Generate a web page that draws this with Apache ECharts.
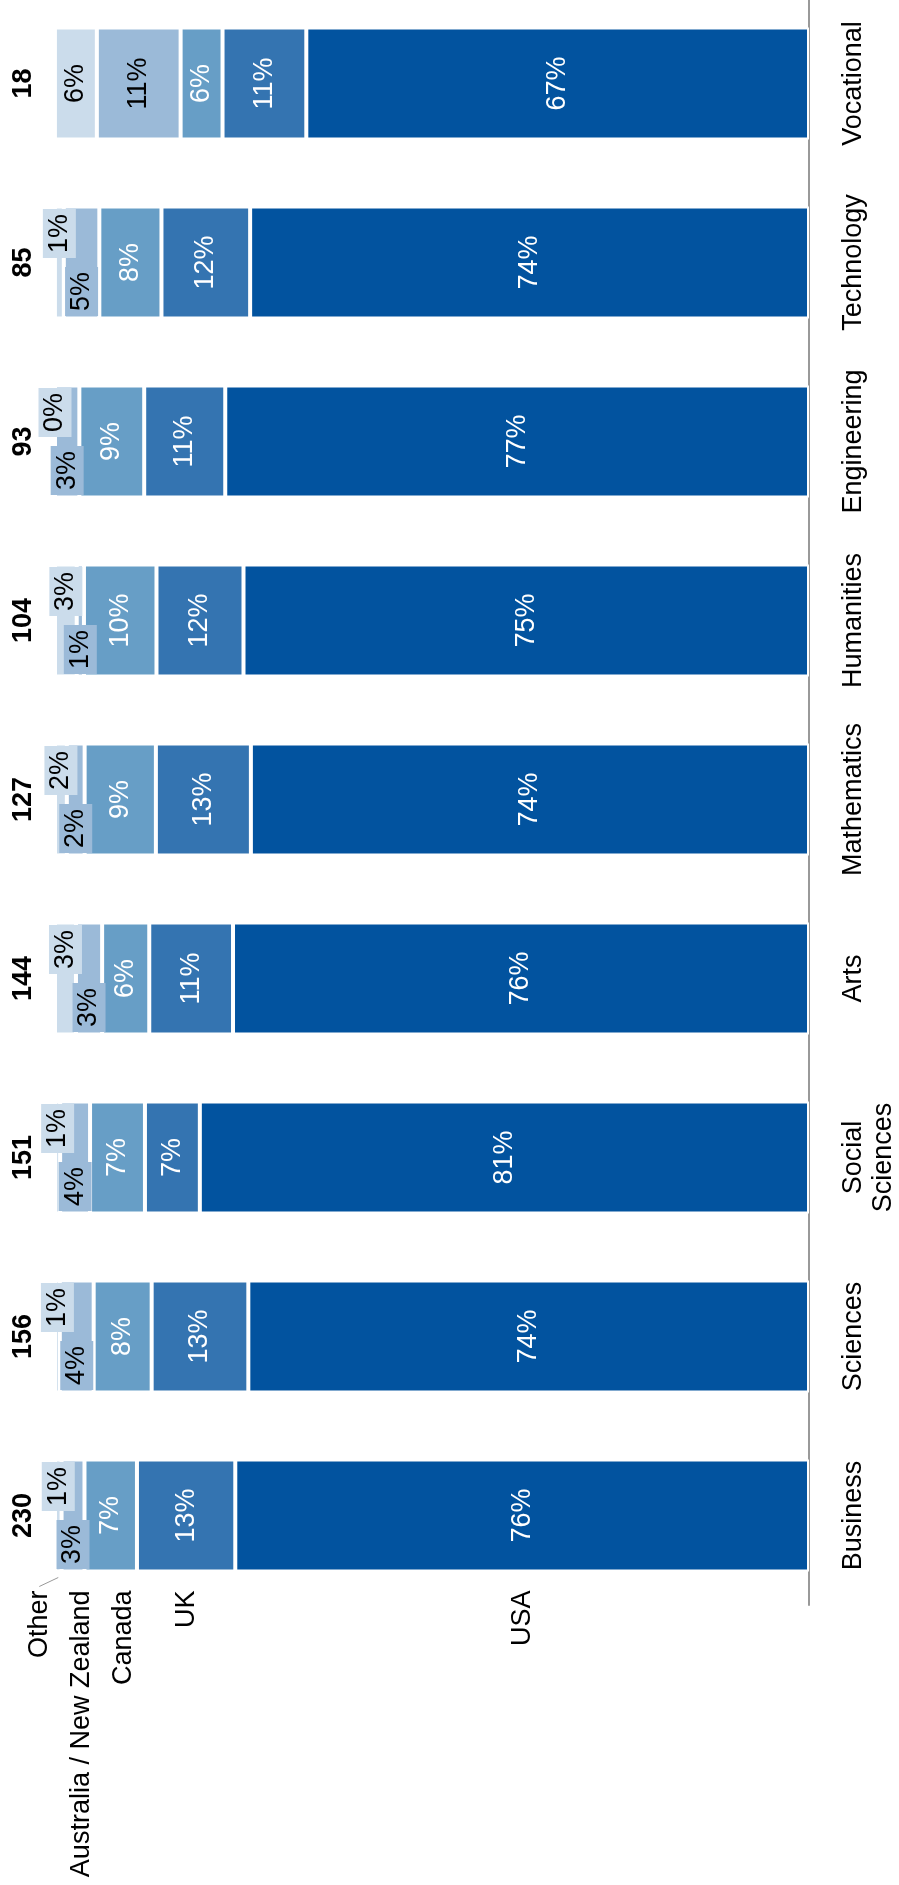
<!DOCTYPE html>
<html>
<head>
<meta charset="utf-8">
<script src="https://cdn.jsdelivr.net/npm/echarts@6/dist/echarts.min.js"></script>
<style>
html,body{margin:0;padding:0;background:#fff;overflow:hidden;}
#chart{position:relative;top:-6px;width:899px;height:1891px;}
</style>
</head>
<body>
<div id="chart"></div>
<script>
// ---- data ----
const categories = ['Business', 'Sciences', 'Social\nSciences', 'Arts', 'Mathematics', 'Humanities', 'Engineering', 'Technology', 'Vocational'];
const totals = ['230', '156', '151', '144', '127', '104', '93', '85', '18'];
const countries = ['USA', 'UK', 'Canada', 'Australia / New Zealand', 'Other'];
const usa    = [76.09, 74.36, 80.79, 76.39, 74.02, 75.00, 77.42, 74.12, 66.67];
const uk     = [13.04, 12.82,  7.28, 11.11, 12.60, 11.54, 10.75, 11.76, 11.11];
const canada = [ 6.96,  7.69,  7.28,  6.25,  9.45,  9.62,  8.60,  8.24,  5.56];
const ausNz  = [ 3.04,  4.49,  3.97,  3.47,  2.36,  0.96,  3.23,  4.71, 11.11];
const other  = [ 0.87,  0.64,  0.66,  2.78,  1.57,  2.88,  0.00,  1.18,  5.56];

// ---- style ----
const FONT = "'Liberation Sans', Arial, Helvetica, sans-serif";
const colors = ['#02539F', '#3474B1', '#679EC6', '#9BBAD8', '#CBDCEB'];
const labelColors = ['#fff', '#fff', '#fff', '#000', '#000'];
const legendNudge = [0, 0, 13, 9, -19];   // px shift of the left-hand country names
const staggerOffset = 29;                 // px shift of crowded small labels

const seriesValues = [usa, uk, canada, ausNz, other];

function crowded(i) { return ausNz[i] < 5 || other[i] < 5; }

const barSeries = seriesValues.map((vals, s) => ({
  name: countries[s],
  type: 'bar',
  stack: 'total',
  barWidth: 112,
  itemStyle: { color: colors[s], borderColor: '#fff', borderWidth: 2 },
  label: {
    show: true,
    position: 'inside',
    rotate: 90,
    fontFamily: FONT,
    fontSize: 27,
    lineHeight: 27,
    color: labelColors[s],
    formatter: p => Math.round(p.value) + '%'
  },
  data: vals.map((v, i) => {
    if ((s === 3 || s === 4) && crowded(i)) {
      return {
        value: v,
        label: {
          offset: [s === 4 ? staggerOffset : -staggerOffset, 0],
          backgroundColor: colors[s],
          padding: [3, 5]
        }
      };
    }
    return v;
  })
}));

// centre of each segment of the first column, for the country names
const legendData = [];
let cum = 0;
seriesValues.forEach((vals, s) => {
  legendData.push([cum + vals[0] / 2, 0, s]);
  cum += vals[0];
});

const legendSeries = {
  type: 'custom',
  silent: true,
  clip: false,
  data: legendData,
  encode: { x: 0, y: 1 },
  renderItem: (params, api) => {
    const s = api.value(2);
    const pt = api.coord([api.value(0), api.value(1)]);
    const x = pt[0] + legendNudge[s];
    const y = pt[1] + 75;
    const children = [{
      type: 'text',
      x: x, y: y,
      rotation: Math.PI / 2,
      style: {
        text: countries[s],
        fontFamily: FONT,
        fontSize: 27,
        fill: '#000',
        align: 'right',
        verticalAlign: 'middle'
      }
    }];
    if (s === 4) {
      children.push({
        type: 'line',
        shape: { x1: x, y1: y - 4, x2: pt[0], y2: y - 13 },
        style: { stroke: '#999', lineWidth: 1 }
      });
    }
    return { type: 'group', children: children };
  }
};

const chart = echarts.init(document.getElementById('chart'), null, { renderer: 'canvas' });
chart.setOption({
  animation: false,
  backgroundColor: '#fff',
  grid: { left: 55, right: 88, top: 0, bottom: 280, containLabel: false },
  xAxis: {
    type: 'value',
    inverse: true,
    min: 0,
    max: 100,
    show: false
  },
  yAxis: [{
    type: 'category',
    position: 'right',
    data: categories,
    axisLine: { show: true, lineStyle: { color: '#999', width: 2 } },
    axisTick: { show: false },
    splitLine: { show: false },
    axisLabel: {
      interval: 0,
      rotate: 90,
      margin: 30,
      fontFamily: FONT,
      fontSize: 27,
      lineHeight: 30,
      color: '#000'
    }
  }, {
    type: 'category',
    position: 'left',
    data: totals,
    axisLine: { show: false },
    axisTick: { show: false },
    splitLine: { show: false },
    axisLabel: {
      interval: 0,
      rotate: 90,
      margin: 18,
      fontFamily: FONT,
      fontSize: 27,
      fontWeight: 'bold',
      lineHeight: 27,
      color: '#000'
    }
  }],
  series: barSeries.concat([legendSeries])
});
</script>
</body>
</html>
